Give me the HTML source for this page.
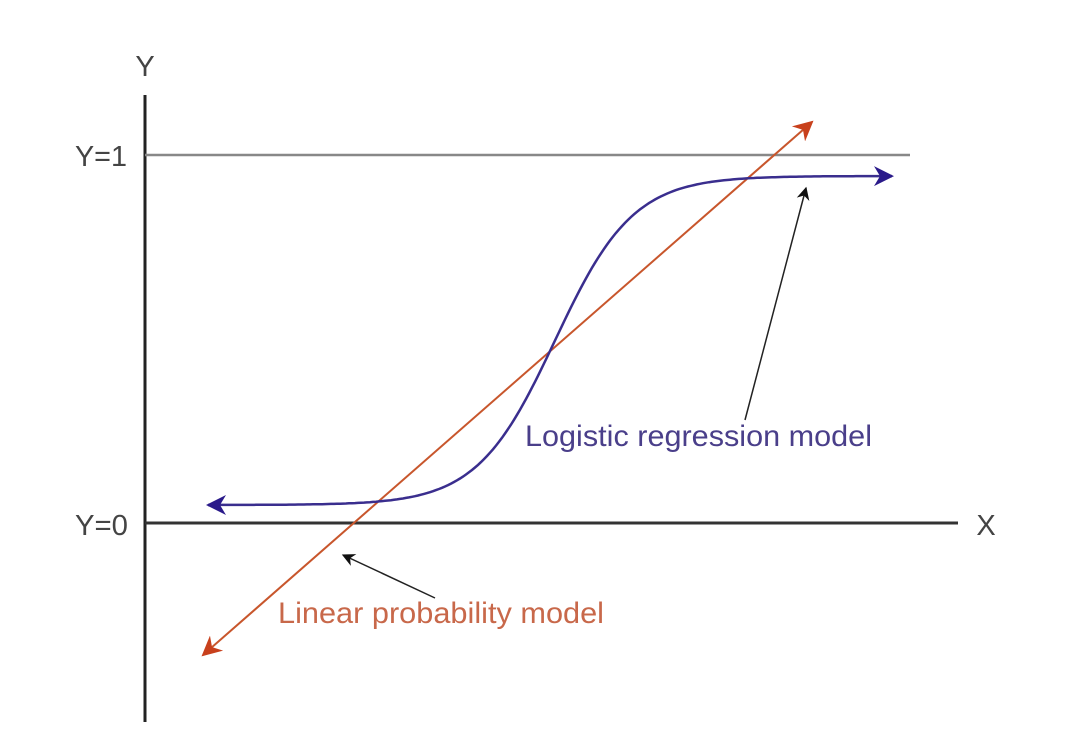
<!DOCTYPE html>
<html><head><meta charset="utf-8"><style>
html,body{margin:0;padding:0;background:#fff;}
svg{display:block}
text{font-family:"Liberation Sans",sans-serif;}
</style></head><body>
<svg id="s" width="1068" height="734" viewBox="0 0 1068 734">
<defs>
<marker id="bb" viewBox="0 0 10 10" refX="9" refY="5" markerWidth="26" markerHeight="20" orient="auto-start-reverse" markerUnits="userSpaceOnUse"><path d="M0,0 L10,5 L0,10 L3,5 z" fill="#2a1a8a"/></marker>
<marker id="ob2" viewBox="0 0 10 10" refX="9" refY="5" markerWidth="26" markerHeight="20" orient="auto-start-reverse" markerUnits="userSpaceOnUse"><path d="M0,0 L10,5 L0,10 L3,5 z" fill="#c8401c"/></marker>
<marker id="kb" viewBox="0 0 10 10" refX="9" refY="5" markerWidth="16" markerHeight="13" orient="auto" markerUnits="userSpaceOnUse"><path d="M0,0 L10,5 L0,10 L3,5 z" fill="#111"/></marker>
</defs>
<line x1="145" y1="95" x2="145" y2="722" stroke="#222" stroke-width="3"/>
<line x1="145" y1="155" x2="910" y2="155" stroke="#888" stroke-width="2.5"/>
<line x1="145" y1="523" x2="958" y2="523" stroke="#333" stroke-width="3"/>
<text x="145" y="76" font-size="29" fill="#444" text-anchor="middle">Y</text>
<text x="75" y="166" font-size="29" fill="#444" textLength="52" lengthAdjust="spacingAndGlyphs">Y=1</text>
<text x="75" y="535" font-size="29" fill="#444" textLength="53" lengthAdjust="spacingAndGlyphs">Y=0</text>
<text x="986" y="535" font-size="29" fill="#444" text-anchor="middle">X</text>
<line x1="203" y1="655" x2="812" y2="122" stroke="#c8562c" stroke-width="2" marker-start="url(#ob2)" marker-end="url(#ob2)"/>
<path id="lg" d="" fill="none" stroke="#3a2e8e" stroke-width="2.5" marker-start="url(#bb)" marker-end="url(#bb)"/>
<line x1="745" y1="420" x2="806" y2="188" stroke="#222" stroke-width="1.5" marker-end="url(#kb)"/>
<line x1="435" y1="598" x2="343" y2="555" stroke="#222" stroke-width="1.5" marker-end="url(#kb)"/>
<text x="525" y="446" font-size="30" fill="#4a3f8a" textLength="347" lengthAdjust="spacingAndGlyphs">Logistic regression model</text>
<text x="278" y="623" font-size="30" fill="#c8684a" textLength="326" lengthAdjust="spacingAndGlyphs">Linear probability model</text>
</svg>
<script>
var d="";for(var x=208;x<=893;x+=3){var y=505-329/(1+Math.exp(-(x-555)/39));d+=(x==208?"M":"L")+x+","+y.toFixed(1)+" ";}
document.getElementById("lg").setAttribute("d",d);
</script>
</body></html>
